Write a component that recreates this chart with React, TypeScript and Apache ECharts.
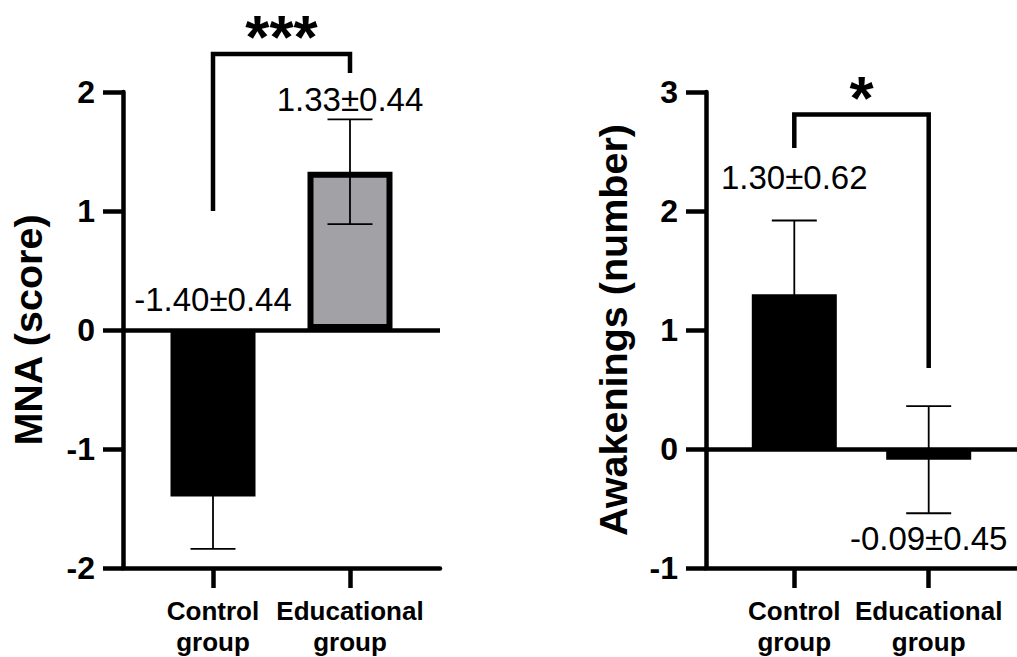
import React, { useEffect, useRef } from 'react';
import * as echarts from 'echarts';

// ---------- data ----------
const categories = ['Control\ngroup', 'Educational\ngroup'];
const mnaMean = [-1.40, 1.33];
const mnaSem = [0.44, 0.44];
const awkMean = [1.30, -0.09];
const awkSem = [0.62, 0.45];
const mnaTicks = [-2, -1, 0, 1, 2];
const awkTicks = [-1, 0, 1, 2, 3];
const mnaTitle = 'MNA (score)';
const awkTitle = 'Awakenings (number)';
const mnaStars = '***';
const awkStars = '*';

// ---------- layout / style ----------
const barColors = ['#000000', '#a2a2a6'];
const mnaLabelY = [0.26, 1.94];
const awkLabelY = [2.28, -0.75];
const mnaBracket = [0, 1, 2.32, 1.0, 2.16];
const awkBracket = [0, 1, 2.81, 2.53, 0.68];

const FONT = '"Liberation Sans", Arial, Helvetica, sans-serif';
const LW = 4.5;
const XMIN = -0.657;
const XMAX = 1.657;

function panel(
  idx: number,
  left: number,
  title: string,
  mean: number[],
  sem: number[],
  ticks: number[],
  labelY: number[],
  bracket: number[],
  stars: string,
  nameGap: number
) {
  const grid = { left, top: 92, width: 317, height: 478 };
  const xAxis = {
    gridIndex: idx,
    type: 'value',
    min: XMIN,
    max: XMAX,
    splitLine: { show: false },
    axisLine: { show: true, onZero: false, lineStyle: { color: '#000', width: LW } },
    axisTick: { show: true, customValues: [0, 1], length: 20, lineStyle: { color: '#000', width: LW } },
    axisLabel: {
      show: true,
      customValues: [0, 1],
      formatter: (v: number) => categories[Math.round(v)],
      color: '#000',
      fontFamily: FONT,
      fontWeight: 'bold',
      fontSize: 26,
      lineHeight: 31,
      margin: 27,
    },
  };
  const yAxis = {
    gridIndex: idx,
    type: 'value',
    min: ticks[0],
    max: ticks[ticks.length - 1],
    interval: 1,
    name: title,
    nameLocation: 'middle',
    nameGap,
    nameRotate: 90,
    nameTextStyle: { color: '#000', fontFamily: FONT, fontWeight: 'bold', fontSize: 39.5 },
    splitLine: { show: false },
    axisLine: { show: true, onZero: false, lineStyle: { color: '#000', width: LW } },
    axisTick: { show: true, length: 20, lineStyle: { color: '#000', width: LW } },
    axisLabel: { color: '#000', fontFamily: FONT, fontWeight: 'bold', fontSize: 32, margin: 28 },
  };
  const series: any[] = [
    {
      type: 'bar',
      xAxisIndex: idx,
      yAxisIndex: idx,
      barWidth: 85,
      z: 2,
      data: mean.map((m, i) => ({ value: [i, m], itemStyle: { color: barColors[i] } })),
      itemStyle: { borderColor: '#000', borderWidth: 6 },
      markLine: {
        silent: true,
        symbol: ['none', 'none'],
        label: { show: false },
        lineStyle: { color: '#000', width: LW, type: 'solid' },
        data: [{ yAxis: 0 }],
      },
    },
    {
      type: 'custom',
      xAxisIndex: idx,
      yAxisIndex: idx,
      z: 5,
      data: mean.map((m, i) => [i, m, sem[i], labelY[i]]),
      renderItem: (_p: any, api: any) => {
        const x = api.value(0);
        const m = api.value(1);
        const s = api.value(2);
        const ly = api.value(3);
        const top = api.coord([x, m + s]);
        const bot = api.coord([x, m - s]);
        const lbl = api.coord([x, ly]);
        const cx = top[0];
        const half = 22.5;
        const st = { stroke: '#000', lineWidth: 1.8 };
        return {
          type: 'group',
          children: [
            { type: 'line', shape: { x1: cx, y1: top[1], x2: cx, y2: bot[1] }, style: st },
            { type: 'line', shape: { x1: cx - half, y1: top[1], x2: cx + half, y2: top[1] }, style: st },
            { type: 'line', shape: { x1: cx - half, y1: bot[1], x2: cx + half, y2: bot[1] }, style: st },
            {
              type: 'text',
              style: {
                text: `${m.toFixed(2)}±${s.toFixed(2)}`,
                x: lbl[0],
                y: lbl[1],
                align: 'center',
                verticalAlign: 'middle',
                fill: '#000',
                fontFamily: FONT,
                fontSize: 33,
              },
            },
          ],
        };
      },
    },
    {
      type: 'custom',
      xAxisIndex: idx,
      yAxisIndex: idx,
      z: 6,
      clip: false,
      data: [bracket],
      renderItem: (_p: any, api: any) => {
        const x0 = api.value(0);
        const x1 = api.value(1);
        const yt = api.value(2);
        const yl = api.value(3);
        const yr = api.value(4);
        const a = api.coord([x0, yl]);
        const b = api.coord([x0, yt]);
        const c = api.coord([x1, yt]);
        const d = api.coord([x1, yr]);
        return {
          type: 'group',
          children: [
            {
              type: 'polyline',
              shape: { points: [a, b, c, d] },
              style: { stroke: '#000', lineWidth: LW, fill: null, lineJoin: 'miter', lineCap: 'butt' },
            },
            {
              type: 'text',
              style: {
                text: stars,
                x: (b[0] + c[0]) / 2,
                y: b[1] - 17,
                align: 'center',
                verticalAlign: 'middle',
                fill: '#000',
                fontFamily: FONT,
                fontWeight: 'bold',
                fontSize: 62,
              },
            },
          ],
        };
      },
    },
  ];
  return { grid, xAxis, yAxis, series };
}

export default function App() {
  const ref = useRef<HTMLDivElement>(null);
  useEffect(() => {
    if (!ref.current) return;
    const chart = echarts.init(ref.current, undefined, { renderer: 'svg' });
    const p1 = panel(0, 123, mnaTitle, mnaMean, mnaSem, mnaTicks, mnaLabelY, mnaBracket, mnaStars, 75);
    const p2 = panel(1, 706, awkTitle, awkMean, awkSem, awkTicks, awkLabelY, awkBracket, awkStars, 73);
    chart.setOption({
      animation: false,
      backgroundColor: '#ffffff',
      grid: [p1.grid, p2.grid],
      xAxis: [p1.xAxis, p2.xAxis],
      yAxis: [p1.yAxis, p2.yAxis],
      series: [...p1.series, ...p2.series],
    } as any);
    return () => chart.dispose();
  }, []);
  return (
    <div
      ref={ref}
      style={{ position: 'fixed', left: 0, top: 0, width: 1017, height: 657, background: '#fff' }}
    />
  );
}
